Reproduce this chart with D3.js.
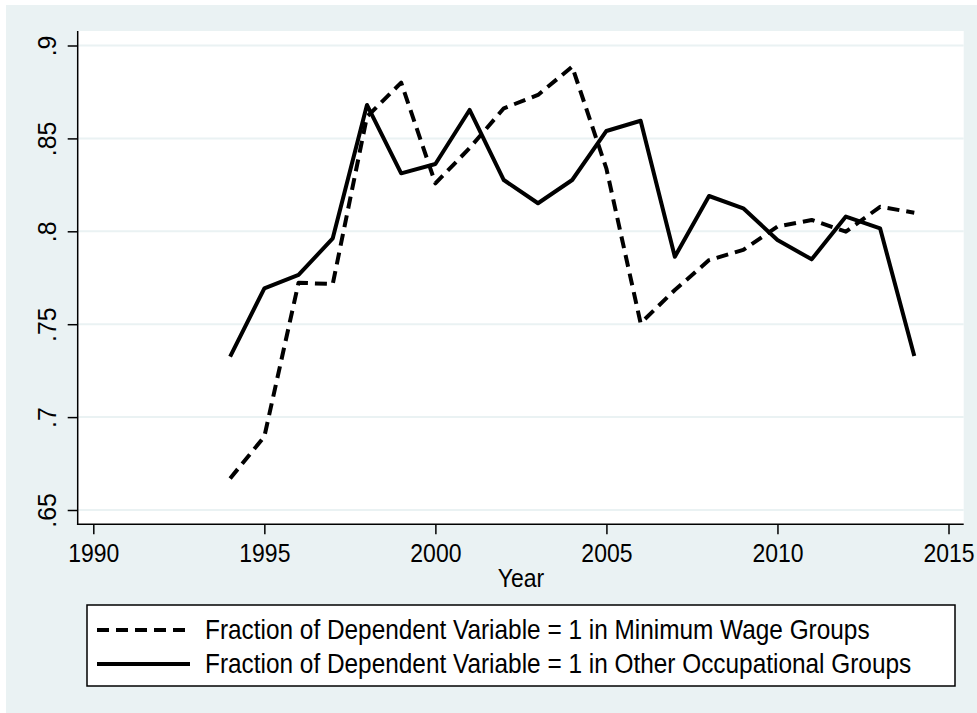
<!DOCTYPE html>
<html>
<head>
<meta charset="utf-8">
<script src="https://cdn.jsdelivr.net/npm/d3@7"></script>
<style>
  html, body { margin: 0; padding: 0; background: #ffffff; }
  svg { display: block; }
  text { font-family: "Liberation Sans", Arial, sans-serif; fill: #000; }
</style>
</head>
<body>
<script>
// ---- data ----
const years = [1994,1995,1996,1997,1998,1999,2000,2001,2002,2003,2004,2005,2006,2007,2008,2009,2010,2011,2012,2013,2014];
const minWageGroups = [0.667,0.6895,0.7723,0.7716,0.8617,0.8800,0.8258,0.8448,0.8662,0.8734,0.8886,0.8337,0.7505,0.7684,0.7845,0.7900,0.8025,0.8061,0.7998,0.8132,0.8100];
const otherGroups = [0.7325,0.7693,0.7765,0.7962,0.8680,0.8312,0.8362,0.8653,0.8276,0.8151,0.8276,0.8540,0.8595,0.7863,0.8190,0.8124,0.7953,0.7849,0.8079,0.8016,0.7329];
const yTicks = [0.65,0.7,0.75,0.8,0.85,0.9];
const yTickLabels = [".65",".7",".75",".8",".85",".9"];
const xTicks = [1990,1995,2000,2005,2010,2015];
const xTitle = "Year";
const seriesNames = [
  "Fraction of Dependent Variable = 1 in Minimum Wage Groups",
  "Fraction of Dependent Variable = 1 in Other Occupational Groups"
];

const W = 977, H = 713;
const svg = d3.select("body").append("svg").attr("width", W).attr("height", H);

// outer graph region
svg.append("rect").attr("x", 6).attr("y", 5).attr("width", W - 6).attr("height", H - 5).attr("fill", "#EAF2F3");

// plot region bounds
const plot = { left: 77.7, right: 963.7, top: 31, bottom: 524.3 };
svg.append("rect").attr("x", plot.left).attr("y", plot.top)
  .attr("width", plot.right - plot.left).attr("height", plot.bottom - plot.top).attr("fill", "#ffffff");

const x = d3.scaleLinear().domain([1990, 2015]).range([93.3, 948.5]);
const y = d3.scaleLinear().domain([0.65, 0.9]).range([510, 45.5]);

// gridlines
svg.append("g").selectAll("line").data(yTicks).join("line")
  .attr("x1", plot.left).attr("x2", plot.right)
  .attr("y1", d => y(d)).attr("y2", d => y(d))
  .attr("stroke", "#EAF2F3").attr("stroke-width", 2);

// y axis
const yAxis = d3.axisLeft(y).tickValues(yTicks).tickSize(10).tickPadding(0).tickFormat((d, i) => yTickLabels[i]);
const gy = svg.append("g").attr("transform", `translate(${plot.left},0)`).call(yAxis);
gy.select(".domain").remove();
gy.selectAll(".tick line").attr("stroke", "#000").attr("stroke-width", 1.5);
gy.selectAll(".tick text").remove();
gy.selectAll(".tick").append("text")
  .attr("transform", "translate(-22,0) rotate(-90) scale(1.08,1.1)")
  .attr("text-anchor", "middle").attr("dy", 0)
  .style("font-size", "23px")
  .text((d, i) => yTickLabels[i]);
svg.append("line").attr("x1", plot.left).attr("x2", plot.left)
  .attr("y1", plot.top).attr("y2", plot.bottom + 0.75)
  .attr("stroke", "#000").attr("stroke-width", 1.5);

// x axis
const xAxis = d3.axisBottom(x).tickValues(xTicks).tickSize(10).tickFormat(d3.format("d"));
const gx = svg.append("g").attr("transform", `translate(0,${plot.bottom})`).call(xAxis);
gx.select(".domain").remove();
gx.selectAll(".tick line").attr("stroke", "#000").attr("stroke-width", 1.5);
gx.selectAll(".tick text").attr("y", 0).attr("dy", 0)
  .attr("transform", "translate(0,38) scale(1,1.12)")
  .style("font-size", "23px").attr("fill", "#000");
svg.append("line").attr("x1", plot.left - 0.75).attr("x2", plot.right)
  .attr("y1", plot.bottom).attr("y2", plot.bottom)
  .attr("stroke", "#000").attr("stroke-width", 1.5);

svg.append("text")
  .attr("transform", `translate(${(x(1990) + x(2015)) / 2},587) scale(1,1.12)`)
  .attr("text-anchor", "middle").style("font-size", "23px").text(xTitle);

// lines
svg.append("path").datum(years.map((yr, i) => [yr, minWageGroups[i]]))
  .attr("d", d3.line().x(d => x(d[0])).y(d => y(d[1])))
  .attr("fill", "none").attr("stroke", "#000")
  .attr("stroke-width", 4).attr("stroke-dasharray", "12,7").attr("stroke-linejoin", "round");
svg.append("path").datum(years.map((yr, i) => [yr, otherGroups[i]]))
  .attr("d", d3.line().x(d => x(d[0])).y(d => y(d[1])))
  .attr("fill", "none").attr("stroke", "#000")
  .attr("stroke-width", 4).attr("stroke-linejoin", "round");

// legend
const lg = svg.append("g");
lg.append("rect").attr("x", 87).attr("y", 605).attr("width", 868).attr("height", 81)
  .attr("fill", "#fff").attr("stroke", "#000").attr("stroke-width", 1.5);
const legendItems = [
  { name: seriesNames[0], dash: "12,7", cy: 630 },
  { name: seriesNames[1], dash: null, cy: 664 }
];
legendItems.forEach(it => {
  const l = lg.append("line").attr("x1", 97).attr("x2", 190).attr("y1", it.cy).attr("y2", it.cy)
    .attr("stroke", "#000").attr("stroke-width", 4);
  if (it.dash) l.attr("stroke-dasharray", it.dash);
  lg.append("text").attr("transform", `translate(205,${it.cy + 9}) scale(1,1.1)`)
    .style("font-size", "24.4px").text(it.name);
});
</script>
</body>
</html>
